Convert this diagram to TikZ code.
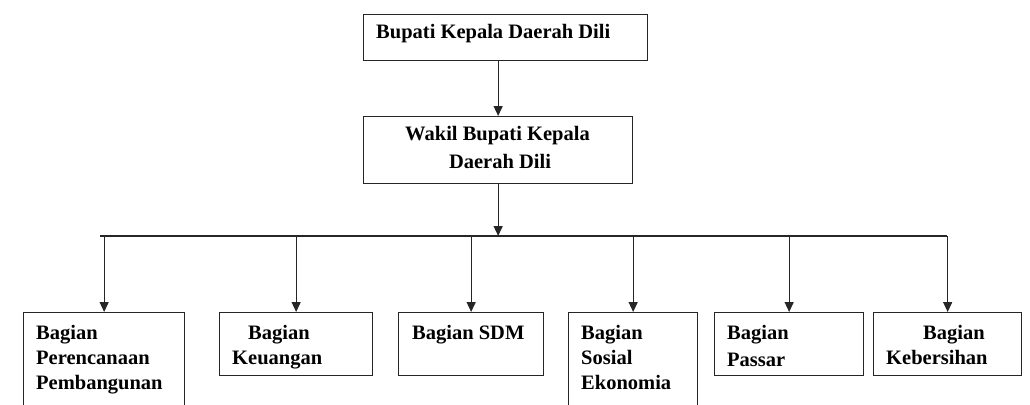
\documentclass[tikz,border=0pt]{standalone}
\usepackage{fontspec}
\setmainfont{Liberation Serif}
\usetikzlibrary{arrows.meta}
\begin{document}
\begin{tikzpicture}[x=1pt,y=-1pt,
  box/.style={draw=black!85, line width=1.3pt, anchor=north west, inner sep=0pt},
  lbl/.style={anchor=base west, inner sep=0pt, font=\fontsize{20.5pt}{25pt}\selectfont\bfseries},
  clbl/.style={anchor=base, inner sep=0pt, font=\fontsize{20.5pt}{25pt}\selectfont\bfseries},
  conn/.style={draw=black!85, line width=1.3pt},
  arr/.style={conn, -{Triangle[length=10pt,width=9pt]}}]
\clip (0,0) rectangle (1030,404);
\useasboundingbox (0,0) rectangle (1030,404);
% boxes
\node[box, minimum width=284pt, minimum height=46pt] (top) at (363,14) {};
\node[box, minimum width=269pt, minimum height=67pt] (wakil) at (363,116) {};
\node[box, minimum width=161pt, minimum height=110pt] (b1) at (23,312) {};
\node[box, minimum width=153pt, minimum height=63pt] (b2) at (219,312) {};
\node[box, minimum width=145pt, minimum height=63pt] (b3) at (398,312) {};
\node[box, minimum width=129pt, minimum height=110pt] (b4) at (568,312) {};
\node[box, minimum width=149pt, minimum height=63pt] (b5) at (714,312) {};
\node[box, minimum width=148pt, minimum height=63pt] (b6) at (873,312) {};
% texts
\node[lbl] (t0) at (376,39) {Bupati Kepala Daerah Dili};
\node[clbl] (t1a) at (497.5,140) {Wakil Bupati Kepala};
\node[clbl] (t1b) at (500,168) {Daerah Dili};
\node[lbl] (t2a) at (36,339) {Bagian};
\node[lbl] (t2b) at (36,364) {Perencanaan};
\node[lbl] (t2c) at (36,389) {Pembangunan};
\node[lbl] (t3a) at (248,339) {Bagian};
\node[lbl] (t3b) at (232,364) {Keuangan};
\node[lbl] (t4a) at (412,339) {Bagian SDM};
\node[lbl] (t5a) at (581,339) {Bagian};
\node[lbl] (t5b) at (581,364) {Sosial};
\node[lbl] (t5c) at (581,389) {Ekonomia};
\node[lbl] (t6a) at (727,339) {Bagian};
\node[lbl] (t6b) at (727,366) {Passar};
\node[lbl] (t7a) at (923,339) {Bagian};
\node[lbl] (t7b) at (886,364) {Kebersihan};
% bus
\coordinate (busL) at (100,236);
\coordinate (busR) at (947,236);
\coordinate (bus) at (500,236);
% connectors
\draw[arr] (top.south -| wakil.north) -- (wakil.north);
\draw[arr] (wakil.south) -- (wakil.south |- bus);
\draw[conn] (busL) -- (busR);
\draw[arr] (b1.north |- bus) -- (b1.north);
\draw[arr] (b2.north |- bus) -- (b2.north);
\draw[arr] (b3.north |- bus) -- (b3.north);
\draw[arr] (b4.north |- bus) -- (b4.north);
\draw[arr] (b5.north |- bus) -- (b5.north);
\draw[arr] (b6.north |- bus) -- (b6.north);
\end{tikzpicture}
\end{document}
